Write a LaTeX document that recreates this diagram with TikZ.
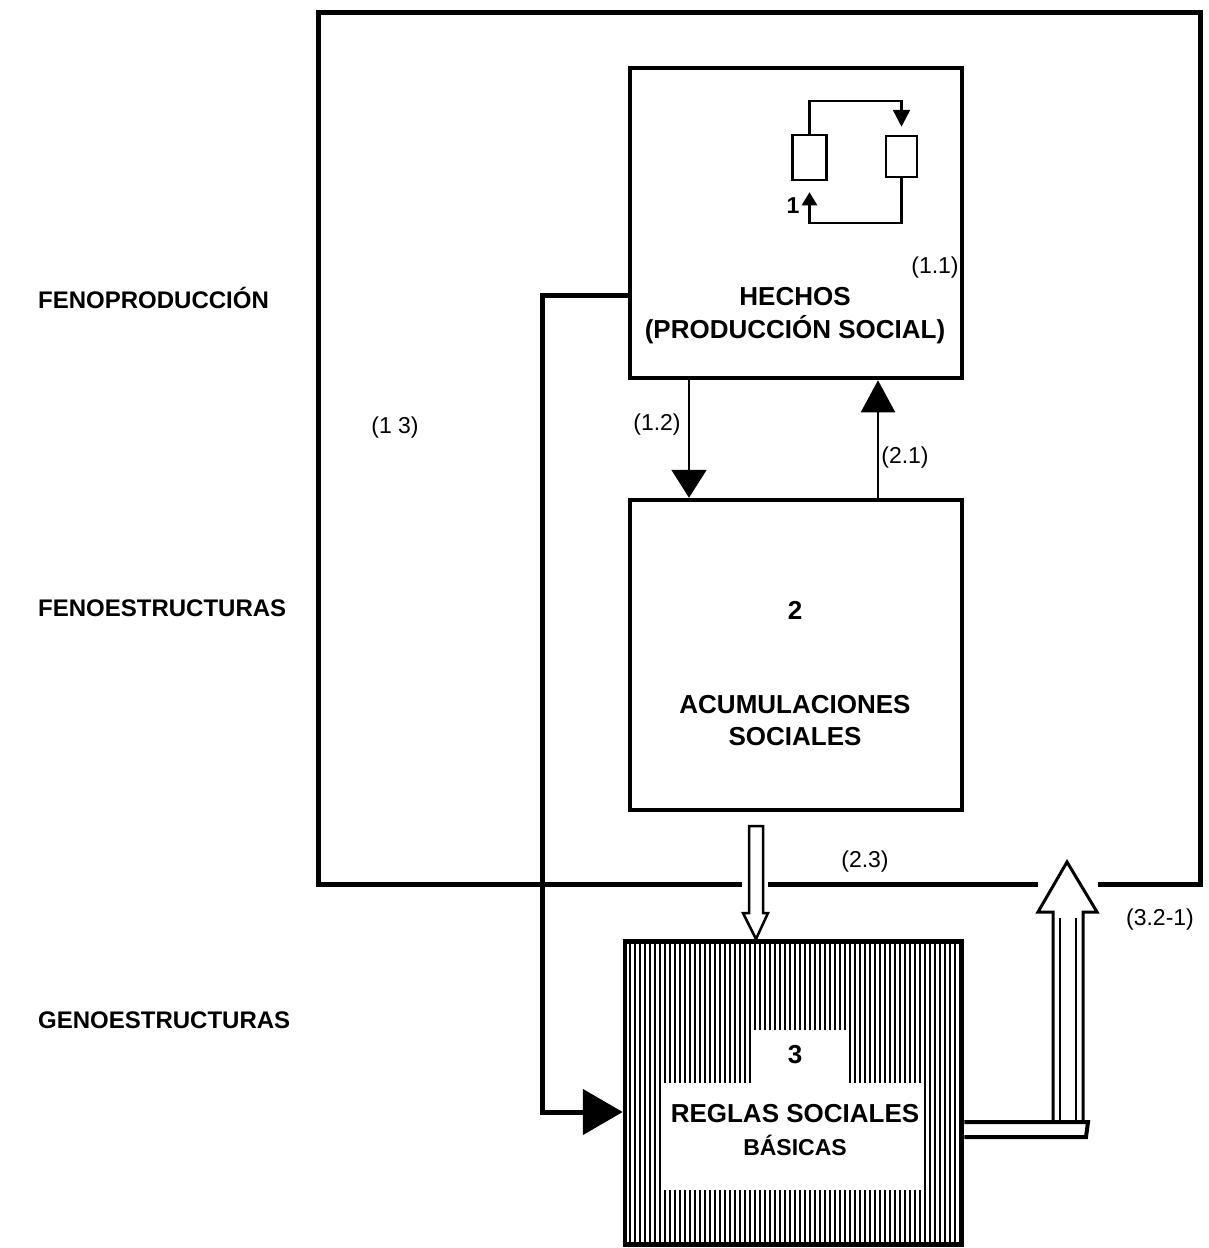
\documentclass[tikz,border=0pt]{standalone}
\usepackage{fontspec}
\setmainfont{Liberation Sans}
\usetikzlibrary{arrows.meta}
\begin{document}
\begin{tikzpicture}[x=1pt,y=-1pt,
  box/.style={draw, line width=4.5pt, minimum width=332pt, minimum height=310pt, inner sep=0pt},
  btxt/.style={font=\fontsize{26}{30}\bfseries\selectfont, inner sep=0pt},
  side/.style={font=\fontsize{24}{28}\bfseries\selectfont, anchor=west, inner sep=0pt},
  lbl/.style={font=\fontsize{23}{27}\selectfont, inner sep=0pt},
  minibox/.style={draw, line width=2.5pt, inner sep=0pt},
]
\useasboundingbox (0,0) rectangle (1208,1248);
% outer frame
\draw[line width=5pt] (1098,884) -- (1200,884) -- (1200,12) -- (318,12) -- (318,884) -- (742,884);
\draw[line width=5pt] (768,884) -- (1038,884);
% boxes
\node[box] (b1) at (796,223) {};
\node[box] (b2) at (796,655) {};
\node[box, minimum width=337pt, minimum height=303pt,
  path picture={\foreach \i in {1,...,67} \draw[line width=1.8pt]
     ([xshift=\i*5pt]path picture bounding box.south west) --
     ([xshift=\i*5pt]path picture bounding box.north west);}] (b3) at (793.5,1093) {};
\fill[white] (753,1030) rectangle (847,1086);
\fill[white] (663,1083) rectangle (922,1190);
% box texts
\node[btxt] (t1a) at (795,297) {HECHOS};
\node[btxt] (t1b) at (795,330) {(PRODUCCIÓN SOCIAL)};
\node[lbl] (l11) at (935,268) {(1.1)};
\node[btxt] (t2n) at (795,610) {2};
\node[btxt] (t2a) at (795,705) {ACUMULACIONES};
\node[btxt] (t2b) at (795,737) {SOCIALES};
\node[btxt] (t3n) at (795,1055) {3};
\node[btxt] (t3a) at (795,1114) {REGLAS SOCIALES};
\node[font=\fontsize{23}{27}\bfseries\selectfont, inner sep=0pt] (t3b) at (795,1145) {BÁSICAS};
% mini circuit
\node[minibox, minimum width=34pt, minimum height=45pt] (r1) at (809.5,157.5) {};
\node[minibox, minimum width=31pt, minimum height=41pt] (r2) at (901.5,156.5) {};
\coordinate (ct) at (809.5,101);
\coordinate (cb) at (809.5,223);
\draw[line width=2.5pt, -{Triangle[width=17pt,length=17pt]}, shorten >=8pt] (r1.north) -- (ct) -| (r2.north);
\draw[line width=2.5pt, -{Triangle[width=15pt,length=13pt]}, shorten >=11pt] (r2.south) |- (cb) -- (r1.south);
\node[font=\fontsize{23}{27}\bfseries\selectfont, inner sep=0pt] (one) at (793,206) {1};
% arrows between boxes
\coordinate (x12) at (689,0);
\coordinate (x21) at (878,0);
\draw[line width=2pt, -{Triangle[width=35pt,length=28pt]}] (b1.south -| x12) -- (b2.north -| x12);
\draw[line width=2pt, -{Triangle[width=34pt,length=32pt]}] (b2.north -| x21) -- (b1.south -| x21);
% long feedback line
\coordinate (ly) at (0,295);
\coordinate (lc) at (542,1112);
\draw[line width=5pt, -{Triangle[width=45pt,length=40pt]}] (b1.west |- ly) -| (lc) -- (b3.west |- lc);
% hollow down arrow
\draw[line width=2.5pt, fill=white, line join=miter] (749,826) -- (763,826) -- (763,913) -- (768,913) -- (756,939) -- (743,913) -- (749,913) -- cycle;
% hollow up arrow with bar
\draw[line width=3pt, fill=white, line join=miter] (1053,1122) -- (1053,912) -- (1038,912) -- (1067,862) -- (1097,912) -- (1083,912) -- (1083,1122);
\draw[line width=1.5pt] (1060,918) -- (1060,1122);
\draw[line width=1.5pt] (1076,918) -- (1076,1122);
\draw[line width=4pt, line join=miter] (b3.east |- 0,1122) -- (1088,1122) -- (1086,1137) -- (b3.east |- 0,1137);
% labels
\node[lbl] (l13) at (395,428) {(1 3)};
\node[lbl] (l12) at (657,425) {(1.2)};
\node[lbl] (l21) at (905,458) {(2.1)};
\node[lbl] (l23) at (865,862) {(2.3)};
\node[lbl] (l32) at (1160,920) {(3.2-1)};
\node[side] (s1) at (38,298) {FENOPRODUCCIÓN};
\node[side] (s2) at (38,608) {FENOESTRUCTURAS};
\node[side] (s3) at (38,1020) {GENOESTRUCTURAS};
\end{tikzpicture}
\end{document}
